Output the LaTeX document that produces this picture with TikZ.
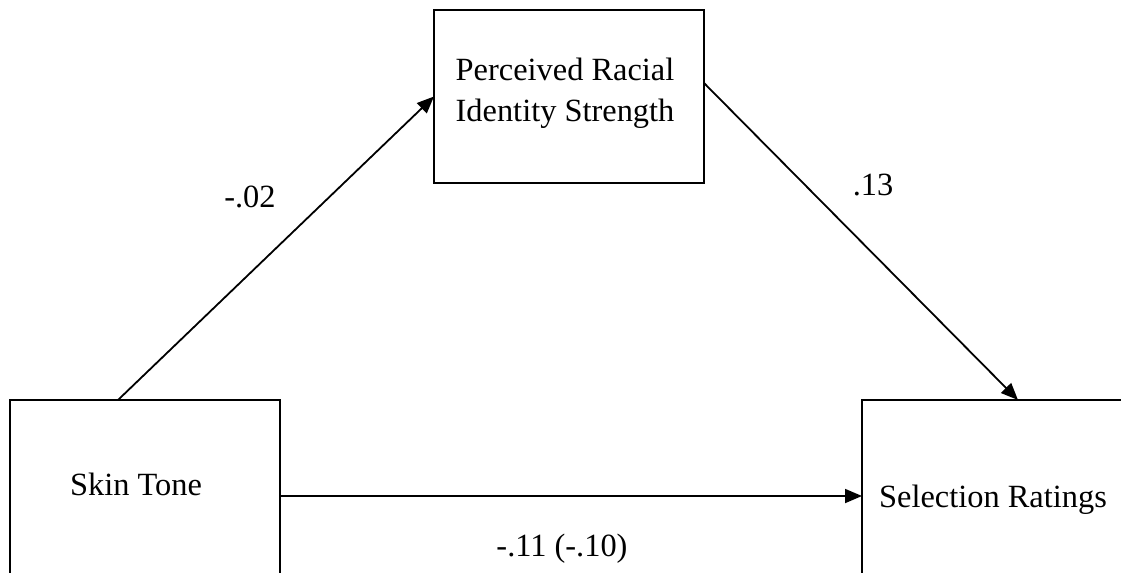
\documentclass[tikz,border=0pt]{standalone}
\usepackage{fontspec}
\setmainfont{Liberation Serif}
\usetikzlibrary{arrows.meta}
\begin{document}
\begin{tikzpicture}[x=0.5pt,y=-0.5pt,
  box/.style={draw=black,line width=1.1pt,rectangle,inner sep=0pt,outer sep=0pt},
  txt/.style={font=\fontsize{16.2pt}{20.5pt}\selectfont,inner sep=0pt,align=center},
  path/.style={draw=black,line width=0.9pt,-{Triangle[length=8.5pt,width=7pt]}}]
  \useasboundingbox (0,0) rectangle (1121,573);
  \clip (0,0) rectangle (1121,573);
  % variable boxes
  \node[box,minimum width=135pt,minimum height=120pt] (st) at (145,520) {};
  \node[box,minimum width=149pt,minimum height=120pt] (sel) at (1011,520) {};
  \node[box,minimum width=135pt,minimum height=86.5pt] (pri) at (569,96.5) {};
  % box texts
  \node[txt,anchor=base] (sttext) at (136,495) {Skin Tone};
  \node[txt,anchor=base] (seltext) at (993,507) {Selection Ratings};
  \node[txt] (pritext) at (565,93) {Perceived Racial\\Identity Strength};
  % paths
  \draw[path] ([xshift=54pt]st.north west) -- (pri.west);
  \draw[path] ([yshift=6.75pt]pri.east) -- ([xshift=78pt]sel.north west);
  \draw[path] ([yshift=12pt]st.east) -- ([yshift=12pt]sel.west);
  % coefficients
  \node[txt,anchor=base] (a) at (250,207) {-.02};
  \node[txt,anchor=base] (b) at (873,195) {.13};
  \node[txt,anchor=base] (c) at (562,556) {-.11 (-.10)};
\end{tikzpicture}
\end{document}
